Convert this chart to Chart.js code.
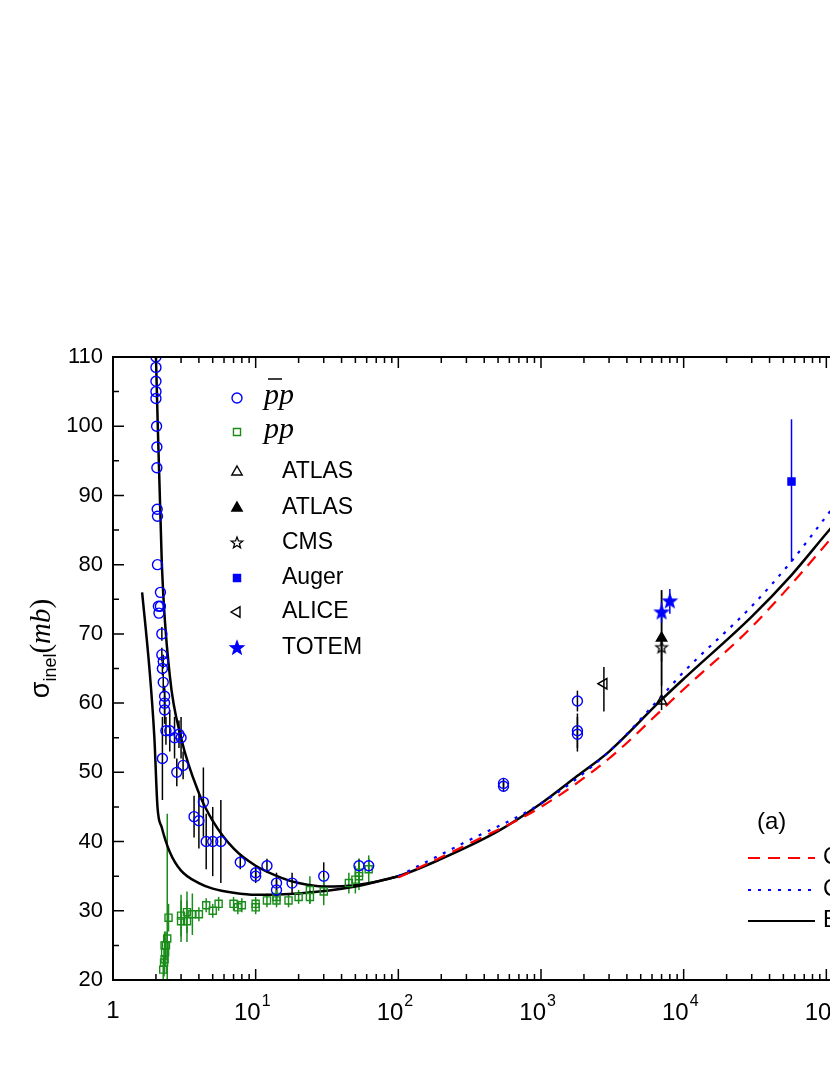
<!DOCTYPE html>
<html><head><meta charset="utf-8">
<script src="https://cdn.jsdelivr.net/npm/chart.js@4/dist/chart.umd.min.js"></script>
<style>html,body{margin:0;padding:0;overflow:hidden;background:#fff;width:830px;height:1075px}#w{width:1100px;height:1075px}</style>
</head><body><div id="w"><canvas id="c" width="1100" height="1075"></canvas></div>
<script>
// ---- data ----
const pbarpX=[2.0,2.0,2.0,2.0,2.0,2.02,2.03,2.03,2.04,2.05,2.05,2.08,2.1,2.15,2.15,2.2,2.2,2.22,2.25,2.25,2.3,2.3,2.3,2.35,2.22,2.5,2.7,2.8,2.9,3.0,3.1,3.7,4.0,4.3,4.5,5.0,5.7,7.8,10,10,12,14,14,18,30,53,62,546,546,1800,1800,1800];
const pbarpY=[110,108.5,106.5,105,104,100,97,94,88,87,80,74,73,76,74,70,67,65,66,63,61,60,59,56,52,56,55,50,55.5,55,51,43.6,43,45.7,40,40,40,37,35.5,35,36.5,34,33,34,35,36.5,36.5,48.4,48,60.3,56,55.5];
const pbarpE=[0,0,0,0,0,0,0,0,0,0,0,0,0,0,0,1,1,1,1,1.5,1.5,2,2,2,6,3,3,2,2,3,2,3,4,5,4,5,6,1,1,1,1,1.5,1.5,1.5,2,1,1,0.8,0.8,1.5,2.5,2.5];
const ppX=[2.25,2.28,2.3,2.32,2.35,2.4,2.45,2.3,3.0,3.0,3.3,3.3,3.6,4.0,4.5,5.0,5.5,7,7.5,8,10,10,12,14,14,17,20,24,24,30,45,50,53,53,62];
const ppY=[21.5,22.5,23,24,25,26,29,25,28.5,29.3,29.8,28.5,29.5,29.5,30.8,30,31,31,30.5,30.8,31,30.5,31.5,31.5,32,31.5,32,32,33,32.8,34,34.5,35.5,35,36];
const ppE=[2,2,2,2,2,18,2,2,3,3,3,3,3,1,1,1,1,1,1,1,1,1,1,1,1,1,1,1,2,2,1.5,2,2,2,2];
const atlasOpen={x:7000,y:60.3,lo:1.3,hi:16};
const atlasFill={x:7000,y:69.4,lo:6.9,hi:6.9};
const cmsPt={x:7000,y:68,lo:2,hi:2};
const augerPt={x:57000,y:92,lo:11.6,hi:9};
const alicePt={x:2760,y:62.8,lo:4,hi:2.4};
const totemX=[7000,8000], totemY=[73.1,74.7], totemE=[1.5,1.8];
const fitX=[2.0,2.2,2.5,3,4,5,7,10,15,20,30,50,100,200,500,1000,1800,3000,7000,10000,30000,57000,100000,300000,1000000];
const fitPbar=[110,80,64,55,47,43,39,36.5,34.8,34,33.5,33.7,35,37.5,41.5,45.5,49.5,53,60.5,63.5,72.5,78.5,84.5,96,110];
const fitPpX=[1.6,1.8,1.95,2.05,2.2,2.5,3,4,5,7,10,20,50,100];
const fitPp=[76,65,55,45,42,38.5,35.8,34,33.2,32.6,32.3,32.5,33.5,35];
const fitRedX=[100,300,1000,3000,7000,10000,30000,100000,300000,1000000];
const fitRed=[34.8,39.5,45,52,59,62,71,83,95,108];
const fitBlueX=[100,300,1000,3000,7000,10000,30000,57000,100000,300000,1000000];
const fitBlue=[35,40,45.5,53,61,64.5,74,80.5,87,100,115];
const legendLabels=['pp','pp','ATLAS','ATLAS','CMS','Auger','ALICE','TOTEM'];
const curveLabels=['COMPETE','COMPAS','Eikonal'];
const xTicks=[1,10,100,1000,10000,100000,1000000];
const yTicks=[20,30,40,50,60,70,80,90,100,110];

function starImg(r,col,filled){const s=2*r+4,cv=document.createElement('canvas');cv.width=s;cv.height=s;const c=cv.getContext('2d');
 c.beginPath();for(let i=0;i<10;i++){const a=-Math.PI/2+i*Math.PI/5,rr=i%2?r*0.42:r;c.lineTo(s/2+rr*Math.cos(a),s/2+rr*Math.sin(a));}c.closePath();
 if(filled){c.fillStyle=col;c.fill();}c.strokeStyle=col;c.lineWidth=1.3;c.stroke();return cv;}
const cmsStar=starImg(6,'#000',false), totemStar=starImg(7,'#0000ff',true);

const pts=(xs,ys)=>xs.map((x,i)=>({x:x,y:ys[i]}));
function mk(label,data,style,r,col,fill,rot){return {label,data,type:'scatter',showLine:false,pointStyle:style,pointRadius:r,pointRotation:rot||0,borderColor:col,backgroundColor:fill,borderWidth:1.4};}
function ln(label,data,col,dash,w){return {label,data,type:'line',showLine:true,pointRadius:0,borderColor:col,borderDash:dash,borderWidth:w,fill:false,cubicInterpolationMode:'monotone'};}
const errSets=[
 {xs:pbarpX,ys:pbarpY,lo:pbarpE,hi:pbarpE,col:'#000'},
 {xs:ppX,ys:ppY,lo:ppE,hi:ppE,col:'#1a8c1a'},
 {xs:[atlasOpen.x,atlasFill.x,cmsPt.x,alicePt.x],ys:[atlasOpen.y,atlasFill.y,cmsPt.y,alicePt.y],lo:[atlasOpen.lo,atlasFill.lo,cmsPt.lo,alicePt.lo],hi:[atlasOpen.hi,atlasFill.hi,cmsPt.hi,alicePt.hi],col:'#000'},
 {xs:[augerPt.x],ys:[augerPt.y],lo:[augerPt.lo],hi:[augerPt.hi],col:'#0000ff'},
 {xs:totemX,ys:totemY,lo:totemE,hi:totemE,col:'#0000ff'}];

const deco={id:'deco',
 beforeDatasetsDraw(ch){const c=ch.ctx,xs=ch.scales.x,ys=ch.scales.y;c.save();
  errSets.forEach(s=>{c.strokeStyle=s.col;c.lineWidth=1.5;s.xs.forEach((x,i)=>{if(!s.lo[i])return;const px=xs.getPixelForValue(x);
   let a=ys.getPixelForValue(Math.max(20,s.ys[i]-s.lo[i])),b=ys.getPixelForValue(Math.min(110,s.ys[i]+s.hi[i]));c.beginPath();c.moveTo(px,a);c.lineTo(px,b);c.stroke();});});
  c.restore();},
 afterDraw(ch){const c=ch.ctx,xs=ch.scales.x,ys=ch.scales.y,a=ch.chartArea;c.save();
  c.strokeStyle='#000';c.lineWidth=2;c.strokeRect(a.left,a.top,a.right-a.left,a.bottom-a.top);
  c.lineWidth=1.5;c.beginPath();
  for(let d=0;d<6;d++)for(let k=1;k<10;k++){const v=Math.pow(10,d)*k,px=xs.getPixelForValue(v),L=k==1?11:6;
   c.moveTo(px,a.bottom);c.lineTo(px,a.bottom-L);c.moveTo(px,a.top);c.lineTo(px,a.top+L);}
  for(let v=20;v<=110;v+=5){const py=ys.getPixelForValue(v),L=v%10==0?11:6;c.moveTo(a.left,py);c.lineTo(a.left+L,py);c.moveTo(a.right,py);c.lineTo(a.right-L,py);}
  c.stroke();
  c.fillStyle='#000';c.font='22px "Liberation Sans",Arial';c.textAlign='right';c.textBaseline='middle';
  yTicks.forEach(v=>c.fillText(String(v),a.left-10,ys.getPixelForValue(v)));
  xTicks.forEach((v,i)=>{const px=xs.getPixelForValue(v);c.textBaseline='alphabetic';
   if(i==0){c.textAlign='center';c.font='24px "Liberation Sans",Arial';c.fillText('1',px,a.bottom+38);}
   else{c.font='24px "Liberation Sans",Arial';c.textAlign='right';c.fillText('10',px+5,a.bottom+40);c.textAlign='left';c.font='16px "Liberation Sans",Arial';c.fillText(String(i),px+6,a.bottom+26);}});
  // y title
  c.save();c.translate(42,a.top+(a.bottom-a.top)/2-20);c.rotate(-Math.PI/2);c.textBaseline='middle';c.textAlign='left';
  c.font='27px "Liberation Sans",Arial';const w1=c.measureText('σ').width;
  c.font='18px "Liberation Sans",Arial';const w2=c.measureText('inel').width;
  c.font='29px "Liberation Serif",serif';const wp=c.measureText('(').width;
  c.font='italic 29px "Liberation Serif",serif';const wm=c.measureText('mb').width;
  let x0=-(w1+w2+2*wp+wm)/2;
  c.font='27px "Liberation Sans",Arial';c.fillText('σ',x0,0);
  c.font='18px "Liberation Sans",Arial';c.fillText('inel',x0+w1,9);
  c.font='29px "Liberation Serif",serif';c.fillText('(',x0+w1+w2,0);
  c.font='italic 29px "Liberation Serif",serif';c.fillText('mb',x0+w1+w2+wp,0);
  c.font='29px "Liberation Serif",serif';c.fillText(')',x0+w1+w2+wp+wm,0);c.restore();
  // legend
  const rows=[398,432,472,508,543,578,612,648];const mx=237,tx=282;
  const ds=ch.data.datasets;
  rows.forEach((y,i)=>{const d=ds[i];c.save();c.strokeStyle=d.borderColor;c.fillStyle=d.backgroundColor;c.lineWidth=1.4;
   Chart.helpers.drawPoint(c,{pointStyle:d.pointStyle,radius:d.pointRadius,rotation:d.pointRotation,borderWidth:1.4},mx,y);c.restore();
   c.fillStyle='#000';c.textAlign='left';c.textBaseline='middle';
   if(i<2){c.font='italic 30px "Liberation Serif",serif';c.fillText(legendLabels[i],tx-18,y-2);
    if(i==0){c.lineWidth=1.5;c.strokeStyle='#000';c.beginPath();c.moveTo(tx-14,y-19);c.lineTo(tx,y-19);c.stroke();}}
   else{c.font='23px "Liberation Sans",Arial';c.fillText(legendLabels[i],tx,y);}});
  c.font='24px "Liberation Sans",Arial';c.textAlign='left';c.fillText('(a)',757,822);
  const cl=[[858,'#ff0000',[12,8]],[890,'#0000ff',[3,7]],[921,'#000',[]]];
  cl.forEach((r,i)=>{c.strokeStyle=r[1];c.lineWidth=2.2;c.setLineDash(r[2]);c.beginPath();c.moveTo(748,r[0]);c.lineTo(815,r[0]);c.stroke();c.setLineDash([]);
   c.font='23px "Liberation Sans",Arial';c.fillStyle='#000';c.fillText(curveLabels[i],823,r[0]);});
  c.restore();}};

new Chart(document.getElementById('c'),{
 data:{datasets:[
  mk('pbarp',pts(pbarpX,pbarpY),'circle',5,'#0000ff','rgba(0,0,0,0)'),
  mk('pp',pts(ppX,ppY),'rect',5,'#1a8c1a','rgba(0,0,0,0)'),
  mk('ATLAS',[{x:atlasOpen.x,y:atlasOpen.y}],'triangle',6,'#000','rgba(0,0,0,0)'),
  mk('ATLAS f',[{x:atlasFill.x,y:atlasFill.y}],'triangle',6,'#000','#000'),
  mk('CMS',[{x:cmsPt.x,y:cmsPt.y}],cmsStar,6,'#000','rgba(0,0,0,0)'),
  mk('Auger',[{x:augerPt.x,y:augerPt.y}],'rect',5,'#0000ff','#0000ff'),
  mk('ALICE',[{x:alicePt.x,y:alicePt.y}],'triangle',6,'#000','rgba(0,0,0,0)',-90),
  mk('TOTEM',pts(totemX,totemY),totemStar,7,'#0000ff','#0000ff'),
  ln('red',pts(fitRedX,fitRed),'#ff0000',[12,8],2.2),
  ln('blue',pts(fitBlueX,fitBlue),'#0000ff',[3,7],2.2),
  ln('fit1',pts(fitX,fitPbar),'#000',[],2.5),
  ln('fit2',pts(fitPpX,fitPp),'#000',[],2.5)]},
 options:{responsive:false,animation:false,clip:true,
  layout:{padding:{left:113,top:357,right:131,bottom:95}},
  plugins:{legend:{display:false},tooltip:{enabled:false}},
  scales:{x:{type:'logarithmic',min:1,max:1000000,display:false},
          y:{type:'linear',min:20,max:110,display:false}}},
 plugins:[deco]});
</script></body></html>
